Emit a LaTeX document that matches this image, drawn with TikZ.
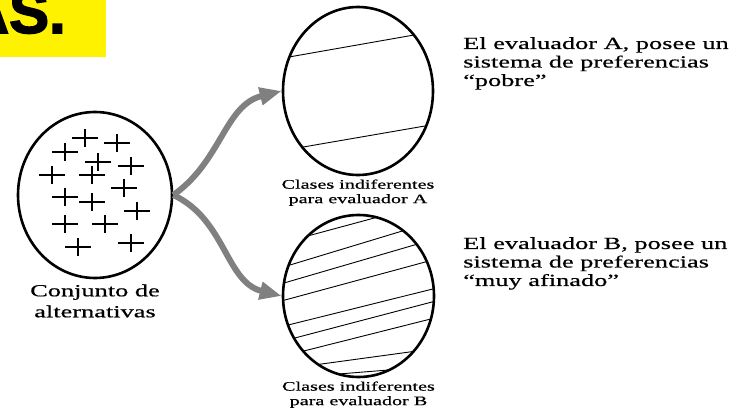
\documentclass[tikz,border=0pt]{standalone}
\usepackage{fontspec}
\setmainfont{Liberation Serif}[FakeStretch=1.55, FakeBold=0.6]
\newfontfamily\titulo{Liberation Sans Bold}[FakeBold=2.5]
\usepackage{tikz}
\usetikzlibrary{shapes.geometric, arrows.meta, positioning}

\tikzset{
    conjunto/.style={draw, ellipse, line width=2.6pt, inner sep=0pt},
    raya/.style={line width=0.9pt, shorten <=-8pt, shorten >=-8pt},
    flecha/.style={draw=gray, line width=6pt, -{Triangle[length=22pt, width=17pt]}},
}

\begin{document}
\begin{tikzpicture}[x=1pt, y=-1pt,
    etiqueta/.style={font=\fontsize{17}{21}\selectfont, align=center, inner sep=0pt},
    clases/.style={font=\fontsize{13}{14.5}\selectfont, align=center, inner sep=0pt},
    texto/.style={font=\fontsize{17}{18.5}\selectfont, align=left, inner sep=0pt},
]
\useasboundingbox (0,0) rectangle (740,409);

% title bar, cut off at the left
\node (barra) [fill=yellow, anchor=north west, minimum width=106pt, minimum height=57pt, inner sep=0pt] at (0,0) {};
\begin{scope}
    \clip (0,0) rectangle (740,409);
    \node (titulo) [anchor=base east, inner sep=0pt, font=\titulo\fontsize{60}{60}\selectfont] at (66,33) {AS.};
\end{scope}

% the three sets
\node (conj) [conjunto, minimum width=154pt, minimum height=166pt] at (95,195) {};
\node (evalA) [conjunto, minimum width=150pt, minimum height=168pt] at (358,91) {};
\node (evalB) [conjunto, minimum width=151pt, minimum height=162pt] at (358.5,296) {};

% alternatives
\foreach \x/\y in {85/138, 117/143, 65/152, 98/162, 131/166, 52/175, 92/175, 124/188,
                   65/197, 92/202, 137/211, 65/224, 105/224, 78/247, 131/243}
    \draw[line width=1.2pt] ({\x-13},\y) -- ({\x+13},\y) (\x,{\y-8.7}) -- (\x,{\y+8.7});

% indifference classes
\begin{scope}
    \clip (evalA.center) ellipse [x radius=75, y radius=84];
    \draw[raya] (290.7,56.7) -- (414,35);
    \draw[raya] (305,146.7) -- (426.7,125.7);
\end{scope}
\begin{scope}
    \clip (evalB.center) ellipse [x radius=75.5, y radius=81];
    \foreach \a/\b/\c/\d in {305/236.7/381.7/216, 290/265/403.3/230.7, 285/282.7/416.7/244.3,
                             285/300/430/260.7, 288.3/325/432.7/289, 296/337.7/429.3/302.7,
                             305/350.7/426.7/320, 319.3/364.3/411.7/351.7, 335/374.3/388.3/370}
        \draw[raya] (\a,\b) -- (\c,\d);
\end{scope}

\node (conjlab) [etiqueta, below=5pt of conj] {Conjunto de\\alternativas};
\node (labA) [clases, below=3pt of evalA] {Clases indiferentes\\para evaluador A};
\node (labB) [clases, below=3pt of evalB] {Clases indiferentes\\para evaluador B};

\node (textoA) [texto, anchor=north west] at (463,37) {El evaluador A, posee un\\sistema de preferencias\\“pobre”};
\node (textoB) [texto, anchor=north west] at (463,237) {El evaluador B, posee un\\sistema de preferencias\\“muy afinado”};

\draw[flecha] (conj.east) to[out=35, in=194] (evalA.west);
\draw[flecha] (conj.east) to[out=-25, in=166] (evalB.west);
\end{tikzpicture}
\end{document}
